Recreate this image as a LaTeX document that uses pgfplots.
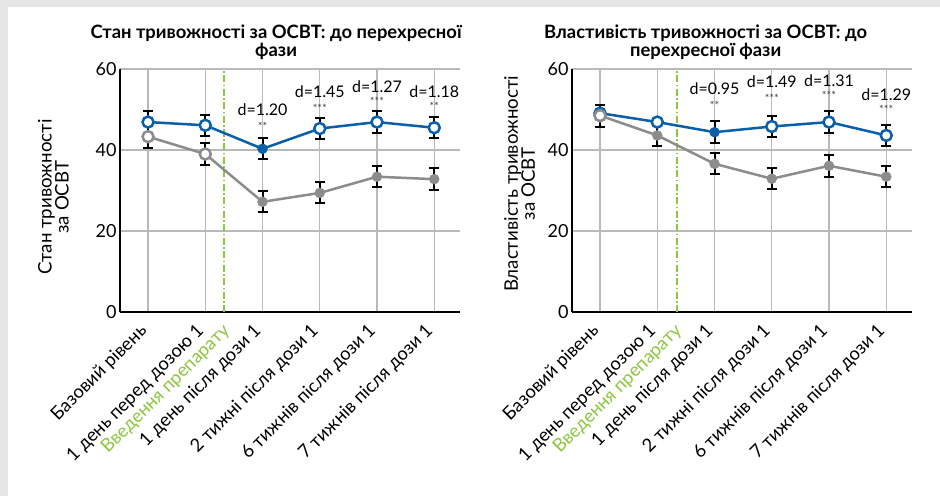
\documentclass[border=0pt]{standalone}
\usepackage{pgfplots}
\pgfplotsset{compat=1.18}
\usepackage{fontspec}
\setmainfont{Lato}

\definecolor{serblue}{RGB}{10,95,170}
\definecolor{sergray}{RGB}{140,140,140}
\definecolor{dosegreen}{RGB}{141,198,63}
\definecolor{gridgray}{RGB}{185,185,185}
\definecolor{framegray}{RGB}{230,230,230}
\definecolor{stargray}{RGB}{60,60,60}

\tikzset{
  dval/.style={font=\fontsize{16}{16}\selectfont},
  stars/.style={font=\fontsize{11}{11}\selectfont, text=stargray},
}

\pgfplotsset{
  anxiety/.style={
    width=340pt, height=243pt, scale only axis,
    xmin=-0.49, xmax=5.45, ymin=0, ymax=60,
    ytick={0,20,40,60},
    xtick={0,...,5},
    xticklabels={Базовий рівень, 1 день перед дозою 1, 1 день після дози 1,
                 2 тижні після дози 1, 6 тижнів після дози 1, 7 тижнів після дози 1},
    extra x ticks={1.45},
    extra x tick labels={Введення препарату},
    extra x tick style={grid=none, xticklabel style={text=dosegreen}},
    grid=major, grid style={gridgray, line width=1.2pt},
    axis x line*=bottom, axis y line*=left,
    axis line style={black, line width=1.6pt, -},
    major tick length=0pt, tick style={draw=none},
    xticklabel style={xshift=-4pt, yshift=-16pt, rotate=45, anchor=east,
                      inner sep=0pt, font=\fontsize{18.3}{18.3}\selectfont},
    yticklabel style={font=\fontsize{18}{18}\selectfont},
    /pgf/number format/assume math mode=true,
    clip=false,
    ylabel style={align=center, font=\fontsize{18.7}{17}\selectfont, anchor=center},
    title style={font=\bfseries\fontsize{18.4}{16}\selectfont, align=center, anchor=south, yshift=0pt},
  },
  errs/.style={draw=none, mark=none, forget plot,
    error bars/.cd, y dir=both, y explicit,
    error bar style={black, line width=2pt},
    error mark options={rotate=90, black, line width=2pt, mark size=5pt}},
  trend/.style={line width=2.5pt, mark=none},
  openmark/.style={only marks, mark=*, mark size=5.5pt,
    mark options={fill=white, draw=#1, line width=2.5pt}},
  fullmark/.style={only marks, mark=*, mark size=5pt,
    mark options={fill=#1, draw=#1}},
}

\begin{document}
\begin{tikzpicture}
\fill[framegray] (0,0) rectangle (940pt,496pt);
\fill[white] (8pt,0) rectangle (940pt,489pt);
\useasboundingbox (0,0) rectangle (940pt,496pt);

% State anxiety
\begin{axis}[anxiety, at={(120pt,184pt)}, anchor=south west,
  title={Стан тривожності за ОСВТ: до перехресної\\фази},
  title style={at={(axis description cs:0.459,1)}},
  ylabel={Стан тривожності\\за ОСВТ},
  ylabel style={at={(axis description cs:-0.196,0.473)}}]
  \draw[dosegreen, line width=1.8pt, dash pattern=on 7pt off 2.5pt on 1.5pt off 2.5pt]
    (axis cs:1.33,0) -- (axis cs:1.33,60);
  % placebo
  \addplot[errs] coordinates {(0,43.3) +- (0,2.7) (1,39.0) +- (0,2.7) (2,27.2) +- (0,2.6)
    (3,29.4) +- (0,2.6) (4,33.4) +- (0,2.65) (5,32.8) +- (0,2.7)};
  \addplot[trend, sergray] coordinates {(0,43.3) (1,39.0) (2,27.2) (3,29.4) (4,33.4) (5,32.8)};
  \addplot[openmark=sergray] coordinates {(0,43.3) (1,39.0)};
  \addplot[fullmark=sergray] coordinates {(2,27.2) (3,29.4) (4,33.4) (5,32.8)};
  % active
  \addplot[errs] coordinates {(0,46.9) +- (0,2.7) (1,46.1) +- (0,2.6) (2,40.3) +- (0,2.6)
    (3,45.3) +- (0,2.6) (4,46.9) +- (0,2.7) (5,45.5) +- (0,2.6)};
  \addplot[trend, serblue] coordinates {(0,46.9) (1,46.1) (2,40.3) (3,45.3) (4,46.9) (5,45.5)};
  \addplot[openmark=serblue] coordinates {(0,46.9) (1,46.1) (3,45.3) (4,46.9) (5,45.5)};
  \addplot[fullmark=serblue] coordinates {(2,40.3)};
  % effect sizes
  \node[dval] at (axis cs:2,49.9) {d=1.20};
  \node[stars] at (axis cs:2,45.9) {**};
  \node[dval] at (axis cs:3,54.4) {d=1.45};
  \node[stars] at (axis cs:3,50.4) {***};
  \node[dval] at (axis cs:4,55.6) {d=1.27};
  \node[stars] at (axis cs:4,52.1) {***};
  \node[dval] at (axis cs:5,54.4) {d=1.18};
  \node[stars] at (axis cs:5,50.8) {**};
\end{axis}

% Trait anxiety
\begin{axis}[anxiety, at={(572pt,184pt)}, anchor=south west,
  title={Властивість тривожності за ОСВТ: до\\перехресної фази},
  title style={at={(axis description cs:0.393,1)}},
  ylabel={Властивість тривожності\\за ОСВТ},
  ylabel style={at={(axis description cs:-0.154,0.527)}}]
  \draw[dosegreen, line width=1.8pt, dash pattern=on 7pt off 2.5pt on 1.5pt off 2.5pt]
    (axis cs:1.34,0) -- (axis cs:1.34,60);
  % placebo
  \addplot[errs] coordinates {(0,48.5) +- (0,2.7) (1,43.6) +- (0,2.55) (2,36.6) +- (0,2.55)
    (3,32.9) +- (0,2.65) (4,36.1) +- (0,2.7) (5,33.4) +- (0,2.65)};
  \addplot[trend, sergray] coordinates {(0,48.5) (1,43.6) (2,36.6) (3,32.9) (4,36.1) (5,33.4)};
  \addplot[openmark=sergray] coordinates {(0,48.5)};
  \addplot[fullmark=sergray] coordinates {(1,43.6) (2,36.6) (3,32.9) (4,36.1) (5,33.4)};
  % active
  \addplot[errs] coordinates {(2,44.4) +- (0,2.65) (3,45.8) +- (0,2.65)
    (4,46.9) +- (0,2.7) (5,43.6) +- (0,2.55)};
  \addplot[trend, serblue] coordinates {(0,49.1) (1,46.9) (2,44.4) (3,45.8) (4,46.9) (5,43.6)};
  \addplot[openmark=serblue] coordinates {(0,49.1) (1,46.9) (3,45.8) (4,46.9) (5,43.6)};
  \addplot[fullmark=serblue] coordinates {(2,44.4)};
  % re-draw the open placebo baseline on top
  \addplot[openmark=sergray] coordinates {(0,48.5)};
  % effect sizes
  \node[dval] at (axis cs:2,55.1) {d=0.95};
  \node[stars] at (axis cs:2,51.1) {**};
  \node[dval] at (axis cs:3,56.9) {d=1.49};
  \node[stars] at (axis cs:3,52.8) {***};
  \node[dval] at (axis cs:4,57.1) {d=1.31};
  \node[stars] at (axis cs:4,53.5) {***};
  \node[dval] at (axis cs:5,53.6) {d=1.29};
  \node[stars] at (axis cs:5,50.1) {***};
\end{axis}
\end{tikzpicture}
\end{document}
